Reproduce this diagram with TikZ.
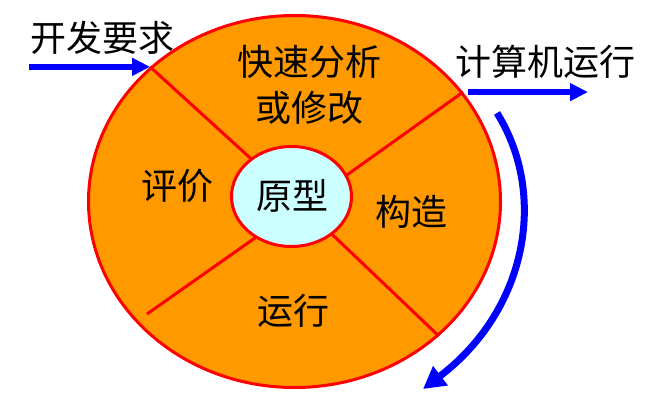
\documentclass[tikz,border=0pt]{standalone}
\usepackage{fontspec}
\usetikzlibrary{arrows.meta,shapes.geometric}
\newfontfamily\cjk{Noto Sans CJK SC}
\definecolor{RingClr}{rgb}{1,0.6,0}
\definecolor{CoreClr}{rgb}{0.8,1,1}

\begin{document}
\begin{tikzpicture}[x=1pt,y=-1pt,
  txt/.style={font=\cjk\fontsize{36}{46}\selectfont,align=center,inner sep=0pt},
  edge/.style={draw=red,line width=3pt},
  flow/.style={draw=blue,line width=6pt,-{Triangle[length=18pt,width=17pt]}}]
\useasboundingbox (0,0) rectangle (660,414);

% outer ring
\node[ellipse,edge,fill=RingClr,inner sep=0pt,minimum width=412pt,minimum height=372pt] (ring) at (294.5,201.5) {};
\node[ellipse,inner sep=0pt,minimum width=120pt,minimum height=100pt] (core) at (291.5,196.5) {};

\coordinate (gap) at (147,314);

% spokes
\draw[edge] (ring.137) -- (core.137);
\draw[edge] (ring.33) -- (core.21);
\draw[edge] (gap) -- (core.229);
\draw[edge] (ring.317.5) -- (core.317);

% centre
\node[ellipse,edge,fill=CoreClr,inner sep=0pt,minimum width=120pt,minimum height=100pt] at (core.center) {};

\node[txt] (proto) at (292,196) {原型};
\node[txt] (modify) at (309.5,85) {快速分析\\或修改};
\node[txt] (build) at (411,212) {构造};
\node[txt] (run) at (293,311) {运行};
\node[txt] (eval) at (177,186) {评价};

% arrows
\node[txt] (req) at (102.5,37.5) {开发要求};
\node[txt] (comp) at (545,61.5) {计算机运行};

\coordinate (reqstart) at (29,63);
\coordinate (runend) at (588,88);
\coordinate (arcstart) at (497,113);
\coordinate (arcend) at (423,389);

\draw[flow] (ring.137 -| reqstart) -- (ring.137);
\draw[flow] ([xshift=5pt]ring.33) -- (ring.33 -| runend);
\draw[flow,line width=7pt,-{Triangle[length=22pt,width=23pt]}] (arcstart) .. controls (548,195) and (527,310) .. (arcend);

\end{tikzpicture}
\end{document}
